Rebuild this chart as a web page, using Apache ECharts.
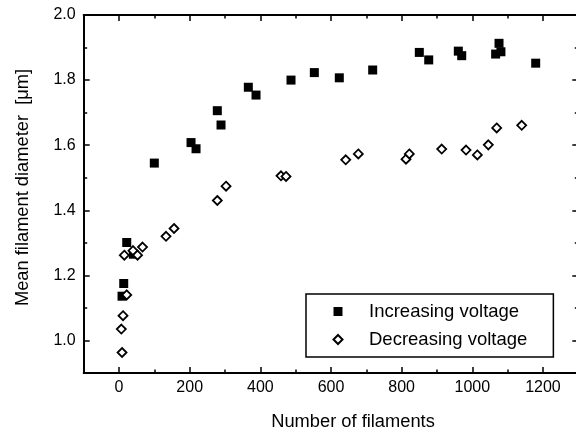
<!DOCTYPE html>
<html>
<head>
<meta charset="utf-8">
<script src="https://cdn.jsdelivr.net/npm/echarts@6/dist/echarts.min.js"></script>
<style>
html,body{margin:0;padding:0;background:#fff;}
#c{width:576px;height:434px;}
</style>
</head>
<body>
<div id="c"></div>
<script>
// Increasing voltage: [number of filaments, mean diameter]
const incX = [8.5, 13.3, 21.8, 40.5, 99.9, 203.8, 218, 278.2, 288.7, 366, 387.8, 486.8, 552.8, 623.5, 718, 850, 876.6, 960.4, 970, 1075.6, 1066, 1081, 1179.4];
const incY = [1.136, 1.175, 1.301, 1.265, 1.545, 1.608, 1.589, 1.706, 1.662, 1.778, 1.754, 1.800, 1.823, 1.807, 1.831, 1.885, 1.862, 1.889, 1.875, 1.913, 1.880, 1.887, 1.852];
// Decreasing voltage
const decX = [8.5, 6.5, 11.3, 21.8, 15, 39.6, 52.4, 66.5, 133, 155.7, 278.2, 302.9, 458.5, 472.7, 641.7, 677.3, 812.3, 821.7, 913.4, 982.2, 1014.2, 1045.3, 1069, 1139.8];
const decY = [0.963, 1.035, 1.076, 1.140, 1.262, 1.276, 1.262, 1.287, 1.320, 1.344, 1.430, 1.474, 1.506, 1.504, 1.555, 1.573, 1.557, 1.573, 1.588, 1.585, 1.570, 1.601, 1.653, 1.661];

const xMajor = [0, 200, 400, 600, 800, 1000, 1200];
const xMinor = [100, 300, 500, 700, 900, 1100];
const yMajor = [1.0, 1.2, 1.4, 1.6, 1.8, 2.0];
const yMinor = [1.1, 1.3, 1.5, 1.7, 1.9];

const seriesNames = ['Increasing voltage', 'Decreasing voltage'];
const xTitle = 'Number of filaments';
const yTitle = 'Mean filament diameter  [\u03bcm]';

const FONT = 'Liberation Sans, Arial, sans-serif';
const XMIN = -100, XMAX = 1300, YMIN = 0.9, YMAX = 2.0;

function xAx(pos, major, withLabel) {
  const ax = {
    type: 'value', gridIndex: 0, position: pos, min: XMIN, max: XMAX, interval: 100,
    splitLine: {show: false},
    axisLine: {show: major, onZero: false, lineStyle: {color: '#000', width: 2}},
    axisTick: {show: true, inside: true, length: major ? 6 : 3.5, customValues: major ? xMajor : xMinor,
               lineStyle: {color: '#000', width: 1.5}},
    axisLabel: {show: !!withLabel, customValues: xMajor, color: '#000', fontSize: 16, fontFamily: FONT, margin: 7,
                formatter: v => String(v)}
  };
  if (withLabel) {
    ax.name = xTitle; ax.nameLocation = 'middle'; ax.nameGap = 40;
    ax.nameTextStyle = {color: '#000', fontSize: 18.3, fontFamily: FONT, padding: [0, 0, 0, 44]};
  }
  return ax;
}
function yAx(pos, major, withLabel) {
  const ax = {
    type: 'value', gridIndex: 0, position: pos, min: YMIN, max: YMAX, interval: 0.1,
    splitLine: {show: false},
    axisLine: {show: major, onZero: false, lineStyle: {color: '#000', width: 2}},
    axisTick: {show: true, inside: true, length: major ? 6 : 3.5, customValues: major ? yMajor : yMinor,
               lineStyle: {color: '#000', width: 1.5}},
    axisLabel: {show: !!withLabel, customValues: yMajor, color: '#000', fontSize: 16, fontFamily: FONT, margin: 8,
                formatter: v => v.toFixed(1)}
  };
  if (withLabel) {
    ax.name = yTitle; ax.nameLocation = 'middle'; ax.nameGap = 52; ax.nameRotate = 90;
    ax.nameTextStyle = {color: '#000', fontSize: 18.3, fontFamily: FONT, padding: [0, 0, 0, 13]};
  }
  return ax;
}

const chart = echarts.init(document.getElementById('c'), null, {renderer: 'canvas'});
chart.setOption({
  animation: false,
  backgroundColor: '#fff',
  grid: {left: 83.7, right: -2.3, top: 15, bottom: 61, containLabel: false, outerBoundsMode: 'none'},
  xAxis: [xAx('bottom', true, true), xAx('bottom', false), xAx('top', true), xAx('top', false)],
  yAxis: [yAx('left', true, true), yAx('left', false), yAx('right', true), yAx('right', false)],
  legend: {
    left: 306, top: 294, orient: 'vertical', selectedMode: false,
    padding: [8, 26, 8, 26.5], itemGap: 9, itemWidth: 9, itemHeight: 9,
    borderColor: '#000', borderWidth: 1.5, backgroundColor: '#fff',
    textStyle: {color: '#000', fontSize: 18.5, fontFamily: FONT, padding: [0, 0, 0, 21.5]},
    data: [
      {name: seriesNames[0], icon: 'rect'},
      {name: seriesNames[1], icon: 'diamond'}
    ]
  },
  series: [
    {
      name: seriesNames[0], type: 'scatter', xAxisIndex: 0, yAxisIndex: 0,
      symbol: 'rect', symbolSize: 9,
      itemStyle: {color: '#000', opacity: 1},
      data: incX.map((x, i) => [x, incY[i]])
    },
    {
      name: seriesNames[1], type: 'scatter', xAxisIndex: 0, yAxisIndex: 0,
      symbol: 'diamond', symbolSize: 9,
      itemStyle: {color: '#fff', borderColor: '#000', borderWidth: 1.8, opacity: 1},
      data: decX.map((x, i) => [x, decY[i]])
    }
  ]
});
</script>
</body>
</html>
